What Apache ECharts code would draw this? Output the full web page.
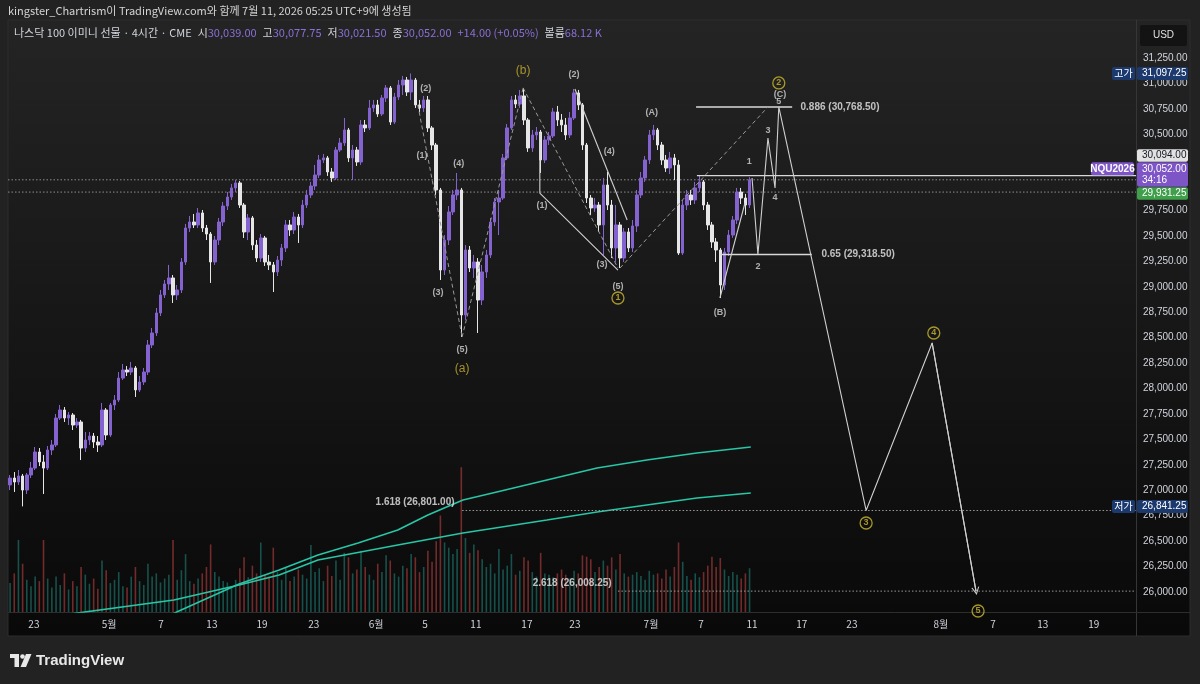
<!DOCTYPE html>
<html>
<head>
<meta charset="utf-8">
<title>NQU2026 4H</title>
<script src="https://cdn.jsdelivr.net/npm/echarts@6.0.0/dist/echarts.min.js"></script>
<style>
html,body{margin:0;padding:0;background:#222222;overflow:hidden;}
#chart{width:1200px;height:684px;}
</style>
</head>
<body>
<div id="chart"></div>
<script>
// ---------------- DATA ----------------
const slotCount = 270;
const opens = [27052,27120,27081,27140,27002,27150,27218,27376,27278,27218,
27396,27445,27710,27789,27710,27740,27641,27671,27415,27494,
27533,27474,27445,27789,27543,27838,27887,28103,28182,28162,
28202,27986,28064,28162,28428,28546,28743,28920,29028,29087,
28920,28969,29244,29578,29637,29608,29726,29578,29519,29244,
29460,29637,29794,29883,29972,30021,29804,29539,29677,29411,
29283,29480,29244,29215,29146,29263,29382,29608,29559,29686,
29608,29804,29903,29991,30099,30247,30267,30129,30070,30345,
30414,30542,30267,30345,30227,30591,30562,30758,30788,30699,
30856,30955,30620,30866,30984,31033,30915,31033,30788,30758,
30837,30562,30394,29952,29165,29460,29736,29903,29952,28723,
29362,29185,29244,28870,29146,29313,29637,29834,29873,30267,
30562,30837,30797,30876,30640,30365,30493,30522,30247,30444,
30483,30719,30640,30591,30493,30660,30906,30788,30394,29873,
29775,29804,29608,30001,29804,29382,29608,29283,29539,29382,
29598,29903,30070,30247,30493,30542,30394,30247,30168,30267,
30198,29332,29804,29903,29854,29972,30031,29804,29608,29441,
29362,29018,29342,29509,29657,29932,29873,29804];
const closes = [27120,27081,27140,27002,27150,27218,27376,27278,27218,27396,
27445,27710,27789,27710,27740,27641,27671,27415,27494,27533,
27474,27445,27789,27543,27838,27887,28103,28182,28162,28202,
27986,28064,28162,28428,28546,28743,28920,29028,29087,28920,
28969,29244,29578,29637,29608,29726,29578,29519,29244,29460,
29637,29794,29883,29972,30021,29804,29539,29677,29411,29283,
29480,29244,29215,29146,29263,29382,29608,29559,29686,29608,
29804,29903,29991,30099,30247,30267,30129,30070,30345,30414,
30542,30267,30345,30227,30591,30562,30758,30788,30699,30856,
30955,30620,30866,30984,31033,30915,31033,30788,30758,30837,
30562,30394,29952,29165,29460,29736,29903,29952,28723,29362,
29185,29244,28870,29146,29313,29637,29834,29873,30267,30562,
30837,30797,30876,30640,30365,30493,30522,30247,30444,30483,
30719,30640,30591,30493,30660,30906,30788,30394,29873,29775,
29804,29608,30001,29804,29382,29608,29283,29539,29382,29598,
29903,30070,30247,30493,30542,30394,30247,30168,30267,30198,
29332,29804,29903,29854,29972,30031,29804,29608,29441,29362,
29018,29342,29509,29657,29932,29873,29804,30052];
const highs = [27150,27179,27199,27160,27170,27278,27425,27415,27346,27435,
27494,27750,27838,27818,27769,27759,27710,27691,27573,27573,
27563,27533,27858,27808,27858,27936,28162,28241,28221,28261,
28221,28123,28202,28477,28595,28792,28969,29067,29215,29116,
29018,29283,29618,29696,29716,29775,29755,29608,29539,29500,
29677,29834,29932,30011,30050,30040,29824,29716,29696,29460,
29519,29500,29313,29244,29303,29421,29657,29657,29736,29716,
29854,29952,30031,30198,30296,30306,30286,30168,30375,30463,
30660,30562,30394,30375,30640,30640,30837,30837,30837,30886,
30984,30974,30906,31033,31073,31063,31097.25,31053,30837,30876,
30876,30581,30414,29972,29509,29794,29952,30119,29972,29411,
29401,29313,29283,29215,29362,29677,29873,29952,30306,30601,
30876,30886,30935,30955,30660,30542,30571,30542,30483,30522,
30758,30778,30699,30660,30719,30945,30935,30807,30414,29903,
29873,29834,30070,30129,29854,29804,29637,29578,29578,29657,
29952,30129,30286,30542,30591,30562,30424,30296,30326,30306,
30247,29854,29952,29952,30031,30094,30050,29834,29637,29480,
29382,29382,29559,29696,29972,29972,29913,30077.75];
const lows = [27002,26983,27052,26841.25,26963,27120,27199,27238,26963,27199,
27346,27425,27691,27671,27641,27592,27612,27297,27376,27445,
27415,27376,27425,27494,27524,27789,27867,28084,28123,28133,
27917,27966,28035,28133,28398,28516,28713,28890,28969,28841,
28870,28939,29215,29539,29578,29578,29539,29460,29038,29215,
29411,29598,29755,29854,29932,29775,29480,29460,29362,29244,
29244,29205,29165,28949,29106,29205,29342,29500,29519,29431,
29578,29775,29873,29952,30070,30217,30090,30031,30050,30326,
30385,30227,30050,30188,30198,30522,30542,30719,30670,30679,
30817,30591,30601,30837,30886,30876,30837,30758,30719,30719,
30522,30345,29903,29067,29116,29411,29706,29854,28507,28674,
29146,29087,28546,28821,29087,29283,29598,29509,29854,30247,
30542,30758,30758,30591,30326,30326,30444,30119,30217,30394,
30463,30581,30522,30444,30463,30640,30738,30345,29824,29706,
29736,29539,29313,29755,29283,29244,29185,29244,29342,29342,
29539,29873,30031,30208,30444,30345,30198,30129,30109,30050,
29313,29313,29755,29804,29814,29932,29755,29559,29382,29244,
28890,28969,29303,29480,29618,29814,29706,29775];
const volumes = [45,60,112,75,50,40,55,48,112,52,
38,55,42,60,35,48,40,70,58,44,
52,36,80,65,45,50,62,40,38,55,
70,48,42,75,55,60,46,52,58,112,
50,65,90,48,44,52,60,70,105,62,
55,48,46,40,50,68,85,54,72,60,
108,58,55,100,62,50,70,48,55,66,
58,52,104,62,68,48,72,56,80,50,
92,85,60,66,95,70,58,50,75,62,
88,80,60,55,72,68,90,85,62,70,
95,78,110,150,108,100,90,98,225,115,
92,105,96,82,70,75,60,98,66,72,
90,58,64,85,80,62,55,92,60,58,
54,60,66,58,52,64,60,88,86,82,
62,70,80,72,85,66,90,60,55,58,
62,56,50,64,58,60,52,66,55,70,
108,78,56,50,60,54,62,72,86,70,
84,66,56,62,58,52,60,68];

const priceTicks = [31250,31000,30750,30500,29750,29500,29250,29000,28750,28500,28250,28000,27750,27500,27250,27000,26750,26500,26250,26000];
const dateTickPos = [5.7,23.7,36.1,48.3,60.3,72.7,87.6,99.3,111.5,123.7,135.2,153.4,165.4,177.6,189.5,201.5,222.8,235.3,247.2,259.4];
const dateTickLabels = ['23','5월','7','13','19','23','6월','5','11','17','23','7월','7','11','17','23','8월','7','13','19'];

// anchored lines (teal)
const avwapA = [[14.3,25783],[39.2,25921],[54.8,26068],[64.4,26167],[73.7,26314],[92.8,26462],[108.4,26580],[128.5,26708],[140.5,26786],[152.4,26855],[164.4,26924],[177.3,26973]];
const avwapB = [[38.8,25783],[54.8,26078],[64.4,26216],[73.7,26363],[83.3,26481],[92.8,26609],[100.0,26757],[108.4,26904],[116.5,26983],[128.5,27101],[140.5,27219],[152.4,27297],[164.4,27366],[177.3,27425]];

// wave drawings
const waveDashed = [
  [[97.6,30788],[108.2,28507]],
  [[108.2,28507],[122.8,30955]],
  [[122.8,30955],[145.5,29185]],
  [[146.0,29185],[181.4,30768.5]]
];
const waveSolid = [
  [[126.8,30512],[126.8,29922],[145.5,29165]],
  [[135.2,30945],[147.7,29657]],
  [[169.9,28890],[175.9,29824]]
];
const projection = [[177.6,30070],[179.0,29318.5],[181.4,30463],[183.1,29972],[184.0,30768.5],[204.9,26801],[220.7,28448],[231.2,26008.25]];

// horizontal levels
const fibSolid = [[30768.5,164.2,187.2],[29318.5,169.9,191.9]];
const fibDotted = [[26801,108.2,269.5],[26008.25,145.5,269.5]];
const priceDotted = [[30052,-0.5,269.5],[29931.25,-0.5,269.5]];
const rayLevel = [30094,164.4,269.5];

const fibLabelsLeft = [['0.886 (30,768.50)',188.6,30768.5],['0.65 (29,318.50)',193.6,29318.5]];
const fibLabelsRight = [['1.618 (26,801.00)',106.5,26884],['2.618 (26,008.25)',144.1,26088]];

const waveLabels = [
  ['(2)',99.5,30945],['(1)',98.6,30286],['(3)',102.4,28939],['(4)',107.4,30208],['(5)',108.2,28379],
  ['(2)',135.0,31083],['(1)',127.3,29795],['(4)',143.4,30326],['(3)',141.7,29215],['(5)',145.5,28998],
  ['(A)',153.6,30709],['(B)',169.9,28752],['(C)',184.3,30886],
  ['1',176.9,30227],['2',179.0,29195],['3',181.4,30532],['4',183.1,29873],['5',184.0,30817]
];
const degreeLabels = [['(a)',108.2,28192],['(b)',122.8,31122]];
const circleLabels = [['1',145.5,28890],['2',184.0,31004],['3',204.9,26678],['4',221.1,28546],['5',231.7,25813]];

const symbolName = 'NQU2026';
const countdown = '34:16';
const levelPrice = 30094;
const prevPrice = 29931.25;
const legendValues = [['시','30,039.00'],['고','30,077.75'],['저','30,021.50'],['종','30,052.00']];
const legendChange = '+14.00 (+0.05%)';
const legendVolume = '68.12 K';

// ---------------- CHART ----------------
const FONT = '"Liberation Sans", Arial, sans-serif';
const KFONT = '"Noto Sans CJK KR", "Noto Sans", sans-serif';
const UP = '#8462d0', DOWN = '#e6e6e6';
const fmt = v => Number(v).toLocaleString('en-US',{minimumFractionDigits:2,maximumFractionDigits:2});

const chart = echarts.init(document.getElementById('chart'), null, {renderer:'canvas'});
const cats = Array.from({length: slotCount}, (_, i) => String(i));
const candleData = opens.map((o, i) => [o, closes[i], lows[i], highs[i]]);
const volData = volumes.map((v, i) => ({value: v, itemStyle: {color: closes[i] >= opens[i] ? 'rgba(38,166,154,0.45)' : 'rgba(239,83,80,0.45)'}}));

const series = [];
series.push({type:'bar', xAxisIndex:0, yAxisIndex:1, data: volData, barWidth:1.6, silent:true, z:2});
function addLine(points, color, width, type, z, extra) {
  series.push(Object.assign({type:'line', xAxisIndex:1, yAxisIndex:0, data: points, symbol:'none', silent:true,
    lineStyle:{color, width, type}, z}, extra || {}));
}
addLine(avwapA, '#27c6a6', 1.6, 'solid', 3);
addLine(avwapB, '#27c6a6', 1.6, 'solid', 3);
priceDotted.forEach(([p,a,b]) => addLine([[a,p],[b,p]], '#8c8c8c', 1, [1.5,2], 3));
fibDotted.forEach(([p,a,b]) => addLine([[a,p],[b,p]], '#9a9a9a', 1, [1.5,2], 3));
series.push({type:'candlestick', xAxisIndex:0, yAxisIndex:0, data: candleData, barWidth:3, silent:true, z:5,
  itemStyle:{color:UP, color0:DOWN, borderColor:UP, borderColor0:DOWN, borderWidth:1}});
addLine([[rayLevel[1],rayLevel[0]],[rayLevel[2],rayLevel[0]]], '#d8d8d8', 1.2, 'solid', 6);
fibSolid.forEach(([p,a,b]) => addLine([[a,p],[b,p]], '#d8d8d8', 1.5, 'solid', 6));
waveDashed.forEach(seg => addLine(seg, '#9a9a9a', 1, [4,3], 6));
waveSolid.forEach(seg => addLine(seg, '#d0d0d0', 1.1, 'solid', 6));
addLine(projection, '#cfcfcf', 1.1, 'solid', 6, {
  markLine: {silent:true, symbol:['none','path://M0,10 L5,0 L10,10 L8.6,10 L5,2.8 L1.4,10 Z'], symbolSize:[8,8],
    label:{show:false}, lineStyle:{color:'#cfcfcf', width:1.1, type:'solid'},
    data:[[{coord: projection[projection.length-2]}, {coord: projection[projection.length-1]}]]}
});

function labelSeries(items, label, z) {
  series.push({type:'scatter', xAxisIndex:1, yAxisIndex:0, symbolSize:1, itemStyle:{color:'rgba(0,0,0,0)'}, silent:true, z: z || 10,
    data: items.map(([t,x,p]) => ({name:t, value:[x,p]})), label: Object.assign({show:true, formatter:'{b}'}, label)});
}
labelSeries(waveLabels, {position:'inside', color:'#d6d6d6', fontSize:9, fontWeight:'bold', fontFamily:FONT});
labelSeries(degreeLabels, {position:'inside', color:'#c8b22c', fontSize:12, fontFamily:FONT});
labelSeries(circleLabels, {position:'inside', formatter: p => '{c|' + p.name + '}',
  rich:{c:{color:'#cdb82e', fontSize:9, fontWeight:'bold', fontFamily:FONT, borderColor:'#cdb82e', borderWidth:1.3,
    borderRadius:7, width:10, height:10, lineHeight:10, align:'center', verticalAlign:'middle', padding:[1,1,1,1]}}});
labelSeries(fibLabelsLeft, {position:'right', distance:2, color:'#e8e8e8', fontSize:10, fontWeight:'bold', fontFamily:FONT});
labelSeries(fibLabelsRight, {position:'left', distance:0, color:'#e8e8e8', fontSize:10, fontWeight:'bold', fontFamily:FONT});

chart.setOption({
  animation: false,
  backgroundColor: '#222222',
  grid: {left: 8, right: 64, top: 20, bottom: 72, containLabel: false},
  xAxis: [
    {type:'category', data: cats, boundaryGap: true, show: false, gridIndex:0},
    {type:'value', min:-0.5, max: slotCount - 0.5, gridIndex:0, position:'bottom',
      axisLine:{show:false}, axisTick:{show:false}, splitLine:{show:false},
      axisLabel:{customValues: dateTickPos, margin:7, color:'#d1d4dc', fontSize:10, fontFamily:KFONT,
        formatter: v => { let best = 0; dateTickPos.forEach((d,i) => { if (Math.abs(d - v) < Math.abs(dateTickPos[best] - v)) best = i; }); return dateTickLabels[best]; }}}
  ],
  yAxis: [
    {type:'value', min:25803, max:31623, position:'right', scale:true,
      axisLine:{show:false}, axisTick:{show:false}, splitLine:{show:false},
      axisLabel:{customValues: priceTicks, margin:7, color:'#d1d4dc', fontSize:10, fontFamily:FONT, formatter: v => fmt(v)}},
    {type:'value', min:0, max:920, show:false}
  ],
  series
});

// ---------------- DECORATION ----------------
const yOf = p => chart.convertToPixel({yAxisIndex:0}, p);
const G = [];
G.push({type:'rect', shape:{x:8,y:20,width:1182,height:616}, z:-10, silent:true,
  style:{fill: new echarts.graphic.LinearGradient(0,0,0,1,[{offset:0,color:'#242424'},{offset:1,color:'#090909'}]), stroke:'#2c2c2c', lineWidth:1}});
G.push({type:'line', shape:{x1:1136.5,y1:20,x2:1136.5,y2:636}, style:{stroke:'#363636', lineWidth:1}, z:-5, silent:true});
G.push({type:'line', shape:{x1:8,y1:612.5,x2:1190,y2:612.5}, style:{stroke:'#2e2e2e', lineWidth:1}, z:-5, silent:true});

function box(x, y, w, h, fill) { return {type:'rect', shape:{x, y, width:w, height:h, r:2}, style:{fill}, z:100, silent:true}; }
function txt(x, y, s, extra) { return {type:'text', x, y, z:101, silent:true,
  style: Object.assign({text:s, fill:'#ffffff', font:'10px ' + FONT, align:'left', verticalAlign:'middle'}, extra || {})}; }

// USD box
G.push(box(1140, 25, 47, 21, '#131313'));
G.push(txt(1163.5, 35.5, 'USD', {align:'center', font:'10px ' + FONT, fill:'#e0e0e0'}));

// high / low tags
const hi = Math.max(...highs), lo = Math.min(...lows);
const BLUE = '#1c396e';
[[hi,'고가'],[lo,'저가']].forEach(([p, name]) => {
  const y = yOf(p);
  G.push(box(1112, y - 6.5, 23, 13, BLUE));
  G.push(txt(1123.5, y, name, {align:'center', font:'10px ' + KFONT}));
  G.push(box(1137, y - 6.5, 51, 13, BLUE));
  G.push(txt(1142, y, fmt(p)));
});
// last price group
const last = closes[closes.length - 1];
const yl = yOf(last);
const pt = yl - 17.5;
G.push(box(1137, pt - 13, 51, 12.5, '#e2e2e2'));
G.push(txt(1142, pt - 6.8, fmt(levelPrice), {fill:'#131722'}));
G.push(box(1091, pt, 43, 13, '#7d55c7'));
G.push(txt(1112.5, pt + 6.5, symbolName, {align:'center', font:'bold 10px ' + FONT}));
G.push(box(1137, pt, 51, 24.5, '#7d55c7'));
G.push(txt(1142, pt + 6.5, fmt(last)));
G.push(txt(1142, pt + 18, countdown));
G.push(box(1137, pt + 25, 51, 12.5, '#3f9f4a'));
G.push(txt(1142, pt + 31.3, fmt(prevPrice)));

// header
G.push(txt(8, 11, 'kingster_Chartrism이 TradingView.com와 함께 7월 11, 2026 05:25 UTC+9에 생성됨', {fill:'#d4d4d4', font:'11px ' + KFONT}));
let rt = '{a|나스닥 100 이미니 선물 · 4시간 · CME}';
legendValues.forEach(([k,v]) => { rt += '{s| }{a|' + k + '}{b|' + v + '}'; });
rt += '{s| }{b|' + legendChange + '}{s| }{a|볼륨}{b|' + legendVolume + '}';
G.push({type:'text', x:14, y:33, z:101, silent:true, style:{text: rt, verticalAlign:'middle', align:'left',
  rich:{a:{fill:'#d1d4dc', fontSize:11, fontFamily:KFONT}, b:{fill:'#8a6fd6', fontSize:11, fontFamily:KFONT}, s:{fontSize:11, width:6}}}});

// TradingView logo
G.push({type:'rect', shape:{x:10,y:654,width:9,height:4}, style:{fill:'#e8e8e8'}, z:101, silent:true});
G.push({type:'rect', shape:{x:14.5,y:654,width:4.5,height:13}, style:{fill:'#e8e8e8'}, z:101, silent:true});
G.push({type:'circle', shape:{cx:22.5,cy:656.5,r:2.3}, style:{fill:'#e8e8e8'}, z:101, silent:true});
G.push({type:'polygon', shape:{points:[[26,654],[31.5,654],[26,667],[20.5,667]]}, style:{fill:'#e8e8e8'}, z:101, silent:true});
G.push(txt(36, 661, 'TradingView', {fill:'#e8e8e8', font:'bold 15px ' + FONT}));

chart.setOption({graphic: G});
</script>
</body>
</html>
